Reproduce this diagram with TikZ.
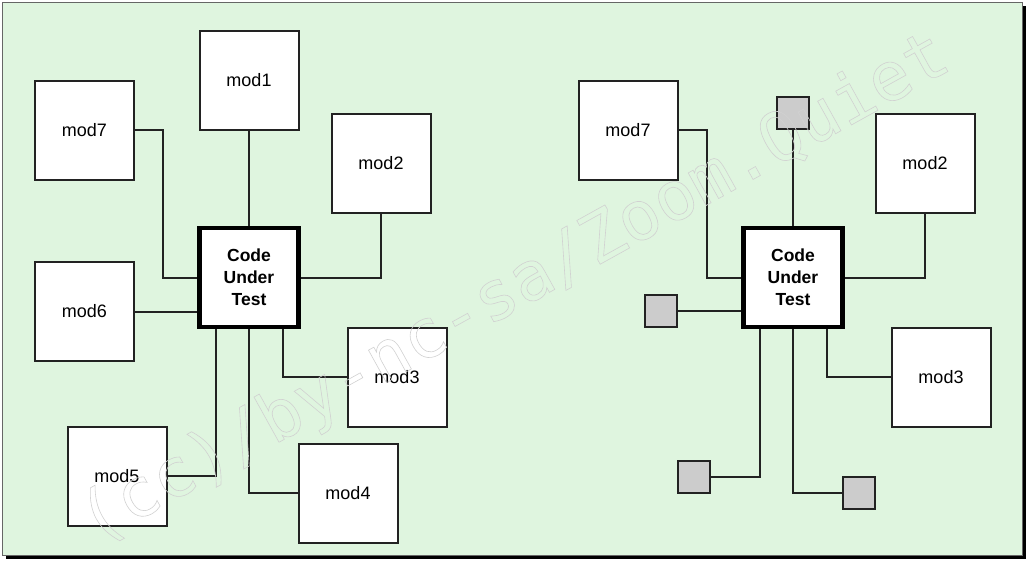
\documentclass[tikz,border=0pt]{standalone}
\usepackage{fontspec}
\setmainfont{Liberation Sans}
\newfontfamily\wmfont{DejaVu Sans Mono}
\usetikzlibrary{calc}
\definecolor{bggreen}{RGB}{223,245,223}
\definecolor{edge}{RGB}{34,34,34}
\definecolor{sqgray}{RGB}{204,204,204}
\tikzset{
  modbox/.style={draw=edge, line width=2pt, fill=white, minimum width=99pt, minimum height=99pt, inner sep=0pt, font=\fontsize{18}{22}\selectfont},
  cutbox/.style={draw=black, line width=4.5pt, fill=white, minimum width=99pt, minimum height=99pt, inner sep=0pt, align=center, font=\fontsize{17.5}{22}\selectfont\bfseries},
  stub/.style={draw=edge, line width=2pt, fill=sqgray, minimum width=32pt, minimum height=32pt, inner sep=0pt},
  wire/.style={draw=edge, line width=2pt},
}
\begin{document}
\begin{tikzpicture}[x=1pt,y=-1pt]
\useasboundingbox (0,0) rectangle (1036,570);
% panel with shadow
\fill[black] (6,6) rectangle (1026,559);
\filldraw[fill=bggreen, draw=black!60, line width=0.6pt] (2,2) rectangle (1022,555);
% ---- left diagram ----
\node[cutbox] (cut) at (249,277.5) {Code\\Under\\Test};
\node[modbox] (m1) at (249,80.5) {mod1};
\node[modbox] (m7) at (84.5,130) {mod7};
\node[modbox] (m2) at (381,163) {mod2};
\node[modbox] (m6) at (84.5,311.5) {mod6};
\node[modbox] (m3) at (397,377) {mod3};
\node[modbox] (m4) at (348,493) {mod4};
\node[modbox] (m5) at (117,476) {mod5};
\draw[wire] (m1.south) -- (cut.north);
\draw[wire] (m7.east) -- ++(28,0) |- (cut.west);
\draw[wire] (m2.south) |- (cut.east);
\draw[wire] (m6.east) -- (m6.east -| cut.west);
\draw[wire] ([xshift=34pt]cut.south) |- (m3.west);
\draw[wire] (cut.south) |- (m4.west);
\draw[wire] ([xshift=-33pt]cut.south) |- (m5.east);
% ---- right diagram ----
\node[cutbox] (cutb) at (793,277.5) {Code\\Under\\Test};
\node[modbox] (m7b) at (628,130) {mod7};
\node[modbox] (m2b) at (925,163) {mod2};
\node[modbox] (m3b) at (941,377) {mod3};
\node[stub] (sqT) at (793,113) {};
\node[stub] (sqL) at (661,311) {};
\node[stub] (sqBL) at (694,476.5) {};
\node[stub] (sqBR) at (859,492.5) {};
\draw[wire] (sqT.south) -- (cutb.north);
\draw[wire] (m7b.east) -- ++(28,0) |- (cutb.west);
\draw[wire] (m2b.south) |- (cutb.east);
\draw[wire] (sqL.east) -- (sqL.east -| cutb.west);
\draw[wire] ([xshift=34pt]cutb.south) |- (m3b.west);
\draw[wire] ([xshift=-33pt]cutb.south) |- (sqBL.east);
\draw[wire] (cutb.south) |- (sqBR.west);
% watermark (drawn on top, outlined letters)
\node[rotate=29, inner sep=0pt] (wm) at (515,290) {\special{pdf:literal direct 1 Tr 0.6 w}\color{black!18}\wmfont\fontsize{68}{68}\selectfont (cc)/by-nc-sa/Zoom.Quiet\special{pdf:literal direct 0 Tr}};
\end{tikzpicture}
\end{document}
